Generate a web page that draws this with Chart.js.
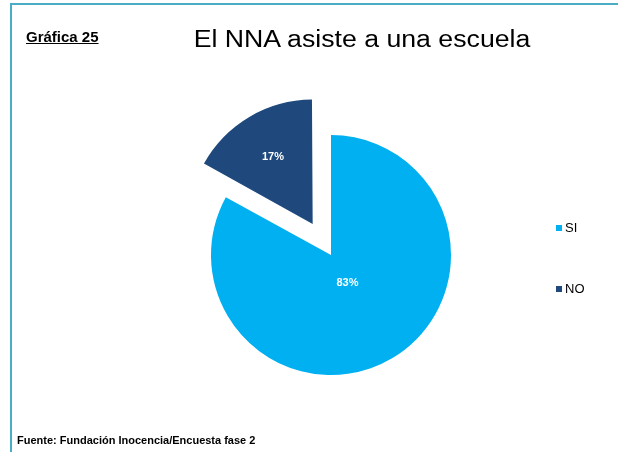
<!DOCTYPE html>
<html lang="es">
<head>
<meta charset="utf-8">
<title>El NNA asiste a una escuela</title>
<script src="https://cdn.jsdelivr.net/npm/chart.js@4"></script>
<style>
  body { margin: 0; background: #fff; font-family: "Liberation Sans", Arial, sans-serif; }
  #hoja { position: relative; width: 618px; height: 452px; overflow: hidden; }
  #marco { position: absolute; left: 10px; top: 3px; right: -5px; bottom: -5px;
           border-top: 2px solid #4bacc6; border-left: 2px solid #4bacc6; }
  #grafica { position: absolute; left: 0; top: 0; }
  .texto { position: absolute; line-height: 1; white-space: nowrap; color: #000; }
  #numero { left: 26px; top: 29px; font-size: 15px; font-weight: bold; text-decoration: underline; }
  #titulo { left: 362px; top: 28px; font-size: 23px; transform: translateX(-50%) scaleX(1.16); }
  #fuente { left: 17px; top: 435px; font-size: 11px; font-weight: bold; }
  #leyenda { position: absolute; left: 556px; top: 220px; }
  .item { height: 16px; line-height: 16px; margin-bottom: 45px; font-size: 13px; display: flex; align-items: center; }
  .cuadro { width: 6px; height: 6px; margin-right: 3px; }
</style>
</head>
<body>
<div id="hoja">
  <div id="marco"></div>
  <canvas id="grafica" width="618" height="452"></canvas>
  <div class="texto" id="numero">Gráfica 25</div>
  <div class="texto" id="titulo">El NNA asiste a una escuela</div>
  <div class="texto" id="fuente">Fuente: Fundación Inocencia/Encuesta fase 2</div>
  <div id="leyenda"></div>
</div>
<script>
// datos de la gráfica
const categorias = ['SI', 'NO'];
const porcentajes = [83, 17];
const colores = ['#00b0f0', '#1f497d'];
// separación de cada rebanada (Chart.js desplaza offset/4)
const separacion = [0, 144];
// posición de la etiqueta como fracción del radio
const posEtiqueta = [0.27, 0.65];

// leyenda a la derecha
const leyenda = document.getElementById('leyenda');
categorias.forEach((cat, i) => {
    const div = document.createElement('div');
    div.className = 'item';
    div.innerHTML = `<span class="cuadro" style="background:${colores[i]}"></span>${cat}`;
    leyenda.appendChild(div);
});

// etiquetas de porcentaje dentro de cada rebanada
const etiquetas = {
    id: 'etiquetas',
    afterDatasetsDraw(chart) {
        const ctx = chart.ctx;
        const meta = chart.getDatasetMeta(0);
        ctx.save();
        ctx.fillStyle = '#fff';
        ctx.font = 'bold 11px "Liberation Sans", Arial, sans-serif';
        ctx.textAlign = 'center';
        ctx.textBaseline = 'middle';
        meta.data.forEach((arc, i) => {
            const p = arc.getProps(['x', 'y', 'startAngle', 'endAngle', 'outerRadius'], true);
            const mitad = (p.startAngle + p.endAngle) / 2;
            const d = (arc.options.offset || 0) / 4 + p.outerRadius * posEtiqueta[i];
            ctx.fillText(porcentajes[i] + '%', p.x + Math.cos(mitad) * d, p.y + Math.sin(mitad) * d);
        });
        ctx.restore();
    }
};

new Chart('grafica', {
    type: 'pie',
    data: {
        labels: categorias,
        datasets: [{ data: porcentajes, backgroundColor: colores, borderWidth: 0, offset: separacion }]
    },
    options: {
        responsive: false,
        animation: false,
        radius: 120,
        layout: { padding: { left: 44, top: 58 } },
        plugins: { legend: { display: false }, title: { display: false }, tooltip: { enabled: false } }
    },
    plugins: [etiquetas]
});
</script>
</body>
</html>
